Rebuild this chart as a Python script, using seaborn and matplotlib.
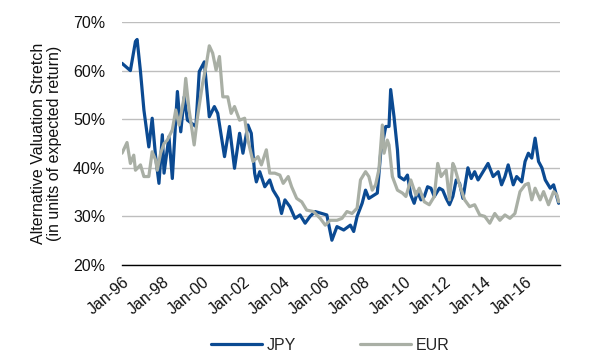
import matplotlib
matplotlib.use("Agg")
import matplotlib.pyplot as plt
import seaborn as sns
import pandas as pd

# ---- data ----
jpy_dates = ["1996-01", "1996-06", "1996-09", "1996-10", "1996-12", "1997-02", "1997-05", "1997-07",
             "1997-09", "1997-11", "1998-01", "1998-02", "1998-05", "1998-07", "1998-10", "1998-12",
             "1999-02", "1999-04", "1999-09", "1999-11", "2000-02", "2000-05", "2000-08", "2000-10",
             "2001-02", "2001-05", "2001-08", "2001-11", "2002-01", "2002-04", "2002-06", "2002-08",
             "2002-09", "2002-11", "2003-02", "2003-05", "2003-07", "2003-10", "2003-12", "2004-02",
             "2004-05", "2004-08", "2004-11", "2005-02", "2005-05", "2005-08", "2005-12", "2006-03",
             "2006-06", "2006-09", "2007-01", "2007-05", "2007-07", "2007-09", "2007-12", "2008-02",
             "2008-04", "2008-09", "2008-11", "2009-02", "2009-04", "2009-05", "2009-07", "2009-09",
             "2009-10", "2010-01", "2010-03", "2010-05", "2010-07", "2010-09", "2010-11", "2011-01",
             "2011-03", "2011-05", "2011-07", "2011-10", "2011-12", "2012-02", "2012-04", "2012-06",
             "2012-08", "2012-10", "2012-12", "2013-03", "2013-05", "2013-07", "2013-09", "2013-12",
             "2014-03", "2014-06", "2014-09", "2014-11", "2015-01", "2015-03", "2015-06", "2015-08",
             "2015-11", "2016-01", "2016-03", "2016-05", "2016-07", "2016-09", "2016-11", "2017-01",
             "2017-04", "2017-06", "2017-09"]
jpy_values = [61.5, 60.0, 66.0, 66.4, 59.8, 51.9, 44.3, 50.2,
              42.3, 36.8, 46.8, 38.9, 46.4, 37.8, 55.7, 47.4,
              54.6, 49.8, 48.5, 59.8, 61.8, 50.5, 52.6, 51.2,
              42.3, 48.5, 39.9, 47.1, 43.0, 48.8, 47.1, 38.9,
              37.1, 39.2, 36.1, 37.5, 35.4, 33.7, 30.6, 33.4,
              32.0, 29.6, 30.3, 28.6, 30.0, 31.0, 30.6, 30.3,
              25.1, 27.9, 27.2, 28.2, 26.9, 30.0, 32.7, 35.4,
              33.7, 34.8, 43.0, 48.5, 48.5, 56.1, 50.5, 43.7,
              38.2, 37.5, 38.5, 34.4, 32.7, 35.1, 33.4, 34.1,
              36.1, 35.8, 34.1, 35.8, 35.4, 33.7, 32.4, 34.1,
              37.5, 36.8, 33.7, 40.0, 37.8, 39.2, 37.5, 39.2,
              40.9, 38.2, 39.2, 36.5, 38.2, 40.6, 36.5, 38.2,
              37.1, 41.3, 43.0, 42.0, 46.1, 41.3, 40.0, 37.5,
              35.8, 36.5, 32.7]

eur_dates = ["1996-01", "1996-04", "1996-06", "1996-08", "1996-09", "1996-12", "1997-02", "1997-05",
             "1997-07", "1997-09", "1997-10", "1997-12", "1998-02", "1998-04", "1998-07", "1998-09",
             "1998-11", "1999-02", "1999-03", "1999-05", "1999-08", "1999-10", "2000-01", "2000-03",
             "2000-05", "2000-07", "2000-09", "2000-11", "2001-01", "2001-04", "2001-06", "2001-08",
             "2001-11", "2002-02", "2002-04", "2002-07", "2002-10", "2002-12", "2003-03", "2003-05",
             "2003-08", "2003-11", "2004-01", "2004-04", "2004-06", "2004-09", "2004-12", "2005-03",
             "2005-07", "2005-11", "2006-02", "2006-05", "2006-09", "2006-12", "2007-03", "2007-06",
             "2007-09", "2007-11", "2008-02", "2008-04", "2008-06", "2008-08", "2008-10", "2008-12",
             "2009-01", "2009-03", "2009-04", "2009-06", "2009-09", "2009-12", "2010-02", "2010-05",
             "2010-08", "2010-10", "2011-01", "2011-04", "2011-07", "2011-09", "2011-11", "2012-02",
             "2012-04", "2012-06", "2012-07", "2012-10", "2013-01", "2013-04", "2013-07", "2013-10",
             "2014-01", "2014-04", "2014-07", "2014-10", "2015-01", "2015-04", "2015-07", "2015-10",
             "2016-01", "2016-03", "2016-05", "2016-07", "2016-10", "2016-12", "2017-03", "2017-06",
             "2017-08", "2017-09"]
eur_values = [43.0, 45.2, 40.9, 42.6, 39.5, 40.6, 38.2, 38.2,
              43.3, 41.6, 39.5, 43.0, 45.0, 45.7, 47.8, 51.9,
              48.8, 54.6, 58.4, 51.9, 44.7, 50.5, 57.4, 60.8,
              65.1, 63.6, 60.1, 62.9, 54.6, 54.6, 51.2, 52.6,
              49.8, 50.2, 45.7, 41.3, 42.3, 40.6, 43.7, 38.9,
              38.9, 38.5, 36.8, 38.2, 36.1, 33.7, 33.0, 31.3,
              31.0, 29.6, 28.2, 29.2, 29.2, 29.6, 31.0, 30.6,
              31.7, 37.5, 39.2, 38.2, 35.4, 36.5, 39.7, 48.8,
              43.0, 45.7, 44.7, 38.2, 35.4, 34.8, 34.1, 37.5,
              34.4, 35.8, 33.0, 32.4, 34.1, 40.9, 38.2, 39.5,
              33.4, 40.9, 40.2, 36.5, 33.4, 32.0, 32.4, 30.3,
              30.0, 28.6, 30.6, 29.2, 30.3, 29.6, 30.6, 35.1,
              36.5, 36.8, 33.4, 35.8, 33.4, 35.1, 32.4, 35.1,
              34.4, 33.0]

series_names = ["JPY", "EUR"]
tick_years = list(range(1996, 2017, 2))
tick_labels = [f"Jan-{y % 100:02d}" for y in tick_years]
y_ticks = [20, 30, 40, 50, 60, 70]

# ---- build table ----
df = pd.concat([
    pd.DataFrame({"date": pd.to_datetime(jpy_dates), "value": [v / 100 for v in jpy_values], "series": "JPY"}),
    pd.DataFrame({"date": pd.to_datetime(eur_dates), "value": [v / 100 for v in eur_values], "series": "EUR"}),
], ignore_index=True)

sns.set_style("white")
plt.rcParams["font.family"] = ["Liberation Sans", "DejaVu Sans"]

fig = plt.figure(figsize=(6.0, 3.64), dpi=100)
ax = fig.add_axes([122 / 600, 1 - 265 / 364, (560 - 122) / 600, (265 - 22) / 364])

palette = {"JPY": "#0B4A92", "EUR": "#A9AFA5"}
sns.lineplot(data=df, x="date", y="value", hue="series", hue_order=series_names,
             palette=palette, linewidth=2.3, estimator=None, sort=False, ax=ax)

ax.set_ylim(0.2, 0.7)
ax.set_yticks([t / 100 for t in y_ticks])
ax.set_yticklabels([f"{t}%" for t in y_ticks], fontsize=11.5, color="#111111")
ax.set_xlim(pd.Timestamp("1996-01-01"), pd.Timestamp("2017-09-25"))
ax.set_xticks([pd.Timestamp(f"{y}-01-01") for y in tick_years])
ax.set_xticklabels(tick_labels, rotation=40, ha="right", rotation_mode="anchor",
                   fontsize=11.5, color="#111111")

ax.grid(axis="y", color="#BEBEBE", linewidth=1.0)
ax.grid(axis="x", visible=False)
for s in ["left", "right", "top"]:
    ax.spines[s].set_visible(False)
ax.spines["bottom"].set_color("black")
ax.spines["bottom"].set_linewidth(1.0)
ax.tick_params(axis="x", which="major", direction="out", length=4, width=1, color="black", pad=3)
ax.tick_params(axis="y", length=0, pad=12)
ax.set_xlabel("")
ax.set_ylabel("Alternative Valuation Stretch\n(in units of expected return)", fontsize=11.5,
              color="#111111", labelpad=8, linespacing=1.1)

ax.legend_.remove()
handles, labels = ax.get_legend_handles_labels()
fig.legend(handles, labels, loc="center", bbox_to_anchor=(330 / 600, 1 - 345 / 364), ncol=2,
           frameon=False, fontsize=11.5, handlelength=3.2, columnspacing=4.0, handletextpad=0.3)

fig.savefig("out.png", dpi=100)
